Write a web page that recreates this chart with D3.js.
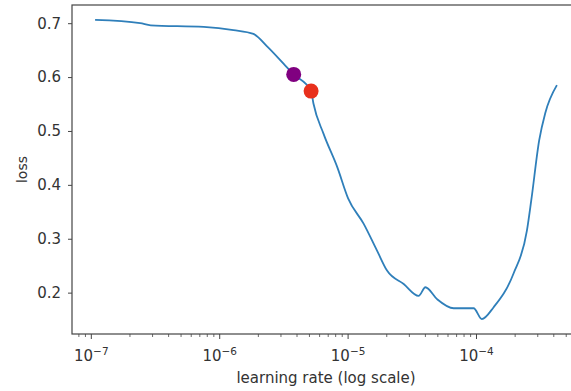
<!DOCTYPE html>
<html>
<head>
<meta charset="utf-8">
<script src="https://cdn.jsdelivr.net/npm/d3@7"></script>
<style>
  body { margin: 0; background: #fff; }
  svg { display: block; font-family: "DejaVu Sans", sans-serif; }
</style>
</head>
<body>
<div id="chart"></div>
<script>
// learning rate finder curve
const lrs = [1.07e-7, 2.4e-7, 2.9e-7, 7.5e-7, 1.28e-6, 1.83e-6, 2.36e-6, 3.14e-6, 3.77e-6,
  5.15e-6, 5.37e-6, 6.43e-6, 8.26e-6, 1.0e-5, 1.32e-5, 1.68e-5, 2.01e-5, 2.71e-5, 3.54e-5,
  4.0e-5, 4.93e-5, 6.64e-5, 9.5e-5, 1.10e-4, 1.36e-4, 1.94e-4, 2.47e-4, 2.67e-4, 3.08e-4, 3.43e-4, 4.23e-4]
const losses = [0.706, 0.700, 0.696, 0.693, 0.687, 0.680, 0.656, 0.625, 0.605,
  0.574, 0.551, 0.495, 0.432, 0.375, 0.328, 0.278, 0.241, 0.216, 0.194,
  0.210, 0.188, 0.171, 0.171, 0.151, 0.173, 0.235, 0.315, 0.371, 0.483, 0.533, 0.585]

// suggested points
const pointLr = [3.77e-6, 5.15e-6]
const pointLoss = [0.605, 0.574]
const pointColors = ['#800080', '#e8301c']

const yTicks = [0.2, 0.3, 0.4, 0.5, 0.6, 0.7]
const xExps = [-7, -6, -5, -4]

const width = 571
const height = 391
const mLeft = 72, mRight = 580, mTop = 5, mBottom = 334

const svg = d3.select('#chart').append('svg')
  .attr('width', width)
  .attr('height', height)

// 5% margins like matplotlib autoscale
const lx = d3.extent(lrs, d => Math.log10(d))
const dx = (lx[1] - lx[0]) * 0.05
const x = d3.scaleLog()
  .domain([Math.pow(10, lx[0] - dx), Math.pow(10, lx[1] + dx)])
  .range([mLeft, mRight])

const ly = d3.extent(losses)
const dy = (ly[1] - ly[0]) * 0.05
const y = d3.scaleLinear()
  .domain([ly[0] - dy, ly[1] + dy])
  .range([mBottom, mTop])

const ink = '#444'
const txt = '#333'

// curve
svg.append('path')
  .datum(lrs.map((d, i) => [d, losses[i]]))
  .attr('fill', 'none')
  .attr('stroke', '#2f7fba')
  .attr('stroke-width', 1.8)
  .attr('stroke-linejoin', 'round')
  .attr('d', d3.line().x(d => x(d[0])).y(d => y(d[1])).curve(d3.curveMonotoneX))

svg.selectAll('circle.pt')
  .data(pointLr)
  .join('circle')
    .attr('class', 'pt')
    .attr('cx', d => x(d))
    .attr('cy', (d, i) => y(pointLoss[i]))
    .attr('r', 7.5)
    .attr('fill', (d, i) => pointColors[i])

// y axis
const yAxis = svg.append('g')
  .attr('transform', `translate(${mLeft},0)`)
  .call(d3.axisLeft(y).tickValues(yTicks).tickFormat(d3.format('.1f')).tickSize(4).tickPadding(7))
yAxis.select('.domain').remove()
yAxis.selectAll('line').attr('stroke', ink)
yAxis.selectAll('text').attr('fill', txt).style('font-size', '15px').style('font-family', '"DejaVu Sans", sans-serif')

// x axis: major and minor ticks
const xMinor = []
for (let e = -8; e <= -3; e++) {
  for (let m = 2; m <= 9; m++) {
    const v = m * Math.pow(10, e)
    if (v >= x.domain()[0] && v <= x.domain()[1]) xMinor.push(v)
  }
}
svg.selectAll('line.minor')
  .data(xMinor)
  .join('line')
    .attr('class', 'minor')
    .attr('x1', d => x(d)).attr('x2', d => x(d))
    .attr('y1', mBottom).attr('y2', mBottom + 3)
    .attr('stroke', ink).attr('stroke-width', 0.8)

svg.selectAll('line.major')
  .data(xExps)
  .join('line')
    .attr('class', 'major')
    .attr('x1', d => x(Math.pow(10, d))).attr('x2', d => x(Math.pow(10, d)))
    .attr('y1', mBottom).attr('y2', mBottom + 5)
    .attr('stroke', ink).attr('stroke-width', 1)

const xl = svg.selectAll('text.xt')
  .data(xExps)
  .join('text')
    .attr('class', 'xt')
    .attr('x', d => x(Math.pow(10, d)))
    .attr('y', 361)
    .attr('text-anchor', 'middle')
    .attr('fill', txt)
    .style('font-size', '15px')
xl.append('tspan').text('10')
xl.append('tspan').attr('dy', -6).style('font-size', '10.5px').text(d => '\u2212' + Math.abs(d))

// frame
svg.append('rect')
  .attr('x', mLeft).attr('y', mTop)
  .attr('width', mRight - mLeft).attr('height', mBottom - mTop)
  .attr('fill', 'none')
  .attr('stroke', ink)
  .attr('stroke-width', 1.2)

// axis labels
svg.append('text')
  .attr('x', (mLeft + mRight) / 2)
  .attr('y', 383)
  .attr('text-anchor', 'middle')
  .attr('fill', txt)
  .style('font-size', '15px')
  .text('learning rate (log scale)')

svg.append('text')
  .attr('transform', `translate(27,${(mTop + mBottom) / 2}) rotate(-90)`)
  .attr('text-anchor', 'middle')
  .attr('fill', txt)
  .style('font-size', '14px')
  .text('loss')
</script>
</body>
</html>
